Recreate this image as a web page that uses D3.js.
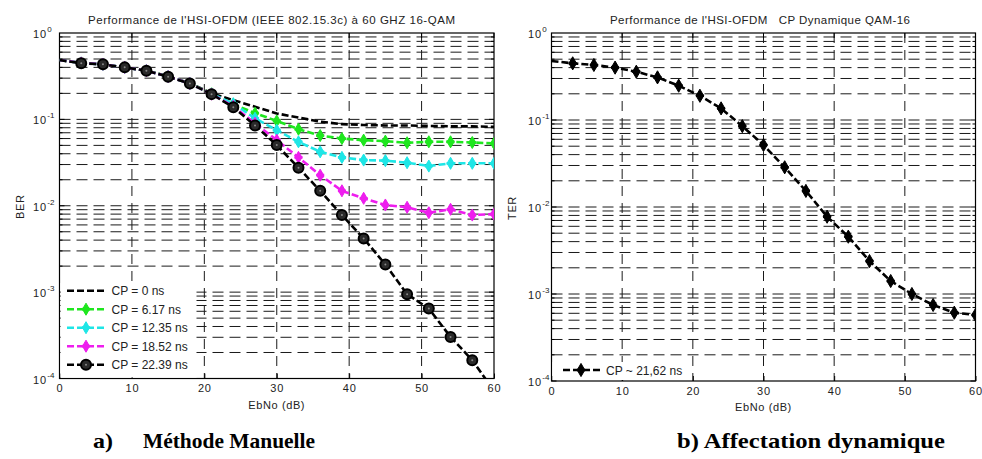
<!DOCTYPE html>
<html>
<head>
<meta charset="utf-8">
<script src="https://cdn.jsdelivr.net/npm/d3@7"></script>
<style>
  html, body { margin: 0; padding: 0; background: #fff; }
  svg { display: block; }
</style>
</head>
<body>
<svg id="chart" width="982" height="459"></svg>
<script>
// ---------------- DATA ----------------
const ebno = [0, 3, 6, 9, 12, 15, 18, 21, 24, 27, 30, 33, 36, 39, 42, 45, 48, 51, 54, 57, 60];
const xTicks = [0, 10, 20, 30, 40, 50, 60];
const yDecades = [0, -1, -2, -3, -4];

const legendLeft = ["CP = 0 ns", "CP = 6.17 ns", "CP = 12.35 ns", "CP = 18.52 ns", "CP = 22.39 ns"];
const cp0    = [0.486, 0.45, 0.434, 0.40, 0.366, 0.315, 0.262, 0.20, 0.167, 0.14, 0.117, 0.105, 0.094, 0.088, 0.086, 0.085, 0.085, 0.084, 0.083, 0.083, 0.082];
const cp617  = [0.486, 0.45, 0.434, 0.40, 0.366, 0.314, 0.26, 0.198, 0.15, 0.118, 0.096, 0.077, 0.065, 0.060, 0.0575, 0.056, 0.0536, 0.055, 0.055, 0.054, 0.0527];
const cp1235 = [0.486, 0.45, 0.434, 0.40, 0.366, 0.313, 0.26, 0.197, 0.152, 0.103, 0.075, 0.055, 0.0421, 0.0363, 0.0338, 0.0333, 0.0315, 0.0288, 0.031, 0.031, 0.031];
const cp1852 = [0.486, 0.45, 0.434, 0.40, 0.366, 0.313, 0.26, 0.196, 0.142, 0.09, 0.0575, 0.0363, 0.0226, 0.0149, 0.0122, 0.0102, 0.0096, 0.0083, 0.0091, 0.0078, 0.008];
const cp2239 = [0.486, 0.446, 0.434, 0.40, 0.366, 0.312, 0.26, 0.196, 0.138, 0.085, 0.0504, 0.0275, 0.0149, 0.0078, 0.00418, 0.00209, 0.000946, 0.000645, 0.000303, 0.000163, 0.000072];

const legendRight = ["CP ~ 21,62 ns"];
const cpDyn  = [0.477, 0.448, 0.429, 0.40, 0.359, 0.309, 0.248, 0.19, 0.136, 0.085, 0.0516, 0.0286, 0.0153, 0.00774, 0.00456, 0.00239, 0.00141, 0.001, 0.000748, 0.00061, 0.000574];

const titleLeft = "Performance de l'HSI-OFDM (IEEE 802.15.3c) à 60 GHZ 16-QAM";
const titleRight = "Performance de l'HSI-OFDM   CP Dynamique QAM-16";
const captionA1 = "a)";
const captionA2 = "Méthode Manuelle";
const captionB = "b) Affectation dynamique";

// ---------------- DRAW ----------------
const svg = d3.select("#chart");
const FONT = "'Liberation Sans', Arial, sans-serif";

function panel(cfg) {
  const g = svg.append("g");
  const x = d3.scaleLinear().domain([0, 60]).range([cfg.x0, cfg.x1]);
  const y = d3.scaleLog().domain([1e-4, 1]).range([cfg.yBot, cfg.yTop]);

  const clipId = "clip" + cfg.id;
  svg.append("clipPath").attr("id", clipId).append("rect")
    .attr("x", cfg.x0).attr("y", cfg.yTop)
    .attr("width", cfg.x1 - cfg.x0).attr("height", cfg.yBot - cfg.yTop);

  // horizontal grid (decades and minor)
  const hVals = [];
  for (let d = -4; d < 0; d++) for (let m = 1; m <= 9; m++) hVals.push(m * Math.pow(10, d));
  g.append("g").selectAll("line").data(hVals.filter(v => v > 1e-4)).join("line")
    .attr("x1", cfg.x0).attr("x2", cfg.x1)
    .attr("y1", d => y(d)).attr("y2", d => y(d))
    .attr("stroke", "#1a1a1a").attr("stroke-width", 1)
    .attr("stroke-dasharray", "11,6");
  // vertical grid
  g.append("g").selectAll("line").data(xTicks.filter(t => t > 0 && t < 60)).join("line")
    .attr("x1", d => x(d)).attr("x2", d => x(d))
    .attr("y1", cfg.yTop).attr("y2", cfg.yBot)
    .attr("stroke", "#1a1a1a").attr("stroke-width", 1)
    .attr("stroke-dasharray", "10,7");

  // frame
  g.append("rect").attr("x", cfg.x0).attr("y", cfg.yTop)
    .attr("width", cfg.x1 - cfg.x0).attr("height", cfg.yBot - cfg.yTop)
    .attr("fill", "none").attr("stroke", "#000").attr("stroke-width", 1.2);

  // x axis (bottom) with inner ticks
  const xa = d3.axisBottom(x).tickValues(xTicks).tickSizeInner(-5).tickSizeOuter(0).tickPadding(cfg.tickPad);
  const xg = g.append("g").attr("transform", `translate(0,${cfg.yBot})`).call(xa);
  xg.select(".domain").remove();
  xg.selectAll(".tick line").attr("stroke", "#000");
  xg.selectAll(".tick text").attr("font-family", FONT).attr("font-size", 11).attr("fill", "#222")
    .attr("letter-spacing", "0.8px");
  // top ticks
  g.append("g").selectAll("line").data(xTicks).join("line")
    .attr("x1", d => x(d)).attr("x2", d => x(d))
    .attr("y1", cfg.yTop).attr("y2", cfg.yTop + 5).attr("stroke", "#000");

  // y tick marks (major + minor) left & right
  const yt = g.append("g");
  yt.selectAll("line.l").data(hVals).join("line").attr("class", "l")
    .attr("x1", cfg.x0).attr("x2", d => cfg.x0 + (Math.abs(Math.log10(d) % 1) < 1e-9 ? 5 : 3))
    .attr("y1", d => y(d)).attr("y2", d => y(d)).attr("stroke", "#000");
  yt.selectAll("line.r").data(hVals).join("line").attr("class", "r")
    .attr("x1", cfg.x1).attr("x2", d => cfg.x1 - (Math.abs(Math.log10(d) % 1) < 1e-9 ? 5 : 3))
    .attr("y1", d => y(d)).attr("y2", d => y(d)).attr("stroke", "#000");

  // y tick labels 10^n
  const yl = g.append("g").selectAll("text").data(yDecades).join("text")
    .attr("x", cfg.labX).attr("y", d => y(Math.pow(10, d)) + 5)
    .attr("font-family", FONT).attr("font-size", 11).attr("fill", "#222");
  yl.append("tspan").text("10").attr("letter-spacing", "1px");
  yl.append("tspan").text(d => String(d)).attr("dy", -6).attr("font-size", 8);

  // axis labels
  g.append("text").attr("x", (cfg.x0 + cfg.x1) / 2).attr("y", cfg.xLabY)
    .attr("text-anchor", "middle").attr("font-family", FONT).attr("font-size", 11)
    .attr("fill", "#222").attr("letter-spacing", "0.6px").text("EbNo (dB)");
  g.append("text").attr("transform", `translate(${cfg.yLabX},${(cfg.yTop + cfg.yBot) / 2 + 1}) rotate(-90)`)
    .attr("text-anchor", "middle").attr("font-family", FONT).attr("font-size", 11)
    .attr("fill", "#222").attr("letter-spacing", "0.6px").text(cfg.yLabel);

  // title
  g.append("text").attr("x", cfg.titleX0).attr("y", 24)
    .attr("font-family", FONT).attr("font-size", 11.5).attr("fill", "#222")
    .attr("textLength", cfg.titleW).attr("lengthAdjust", "spacing")
    .style("white-space", "pre").text(cfg.title);

  return { g, x, y, clipId };
}

function drawSeries(p, vals, color, marker, width) {
  const pts = ebno.map((e, i) => [e, vals[i]]);
  const line = d3.line().x(d => p.x(d[0])).y(d => p.y(d[1]));
  const sg = p.g.append("g").attr("clip-path", `url(#${p.clipId})`);
  sg.append("path").attr("d", line(pts)).attr("fill", "none")
    .attr("stroke", color).attr("stroke-width", width)
    .attr("stroke-dasharray", "7,3").attr("stroke-linejoin", "round");
  if (marker) {
    const mpts = pts.filter(d => d[0] > 0 && d[1] >= 1e-4);
    drawMarkers(sg, mpts.map(d => [p.x(d[0]), p.y(d[1])]), color, marker);
  }
}

function drawMarkers(sel, xy, color, marker) {
  if (marker === "circle") {
    sel.selectAll(null).data(xy).join("circle")
      .attr("cx", d => d[0]).attr("cy", d => d[1]).attr("r", 5)
      .attr("fill", "#2a2a2a").attr("stroke", "#000").attr("stroke-width", 2);
    sel.selectAll(null).data(xy).join("circle")
      .attr("cx", d => d[0]).attr("cy", d => d[1]).attr("r", 1)
      .attr("fill", "#888");
  } else {
    const sym = d3.symbol().type(d3.symbolDiamond).size(marker === "bigdiamond" ? 50 : 42);
    sel.selectAll(null).data(xy).join("path")
      .attr("transform", d => `translate(${d[0]},${d[1]})`)
      .attr("d", sym()).attr("fill", color).attr("stroke", color).attr("stroke-width", 1);
    const cr = d3.symbol().type(d3.symbolCross).size(36);
    sel.selectAll(null).data(xy).join("path")
      .attr("transform", d => `translate(${d[0]},${d[1]})`)
      .attr("d", cr()).attr("fill", color);
  }
}

// ---- Left panel ----
const L = panel({ id: "L", x0: 59.5, x1: 494, yTop: 33, yBot: 378.5, labX: 33, xLabY: 409, yLabX: 24,
  tickPad: 6, yLabel: "BER", title: titleLeft, titleX0: 88, titleW: 367 });

const leftSeries = [
  { v: cp0, c: "#000000", m: null },
  { v: cp617, c: "#1ee61e", m: "diamond" },
  { v: cp1235, c: "#1ee6e6", m: "diamond" },
  { v: cp1852, c: "#ee1eee", m: "diamond" },
  { v: cp2239, c: "#000000", m: "circle" }
];
leftSeries.forEach(s => drawSeries(L, s.v, s.c, s.m, 2.6));

// left legend
const lg = L.g.append("g");
lg.append("rect").attr("x", 60.5).attr("y", 283).attr("width", 136).attr("height", 94.5).attr("fill", "#fff");
legendLeft.forEach((name, i) => {
  const s = leftSeries[i];
  const yy = 290.7 + i * 18.5;
  lg.append("line").attr("x1", 67).attr("x2", 105).attr("y1", yy).attr("y2", yy)
    .attr("stroke", s.c).attr("stroke-width", 2.6).attr("stroke-dasharray", "7,3");
  if (s.m) drawMarkers(lg.append("g"), [[86, yy]], s.c, s.m);
  lg.append("text").attr("x", 111.5).attr("y", yy + 4.5).attr("font-family", FONT)
    .attr("font-size", 12).attr("fill", "#222").text(name);
});

// ---- Right panel ----
const R = panel({ id: "R", x0: 551.5, x1: 975.5, yTop: 33, yBot: 381, labX: 528, xLabY: 411, yLabX: 516,
  tickPad: 6, yLabel: "TER", title: titleRight, titleX0: 610, titleW: 300 });
drawSeries(R, cpDyn, "#000000", "bigdiamond", 2.6);

const rg = R.g.append("g");
rg.append("rect").attr("x", 552.5).attr("y", 362).attr("width", 138).attr("height", 18).attr("fill", "#fff");
rg.append("line").attr("x1", 563).attr("x2", 600).attr("y1", 370).attr("y2", 370)
  .attr("stroke", "#000").attr("stroke-width", 2.6).attr("stroke-dasharray", "7,3");
drawMarkers(rg.append("g"), [[581, 370]], "#000", "bigdiamond");
rg.append("text").attr("x", 606).attr("y", 374.5).attr("font-family", FONT)
  .attr("font-size", 12).attr("fill", "#222").text(legendRight[0]);

// ---- Captions ----
const SERIF = "'Liberation Serif', 'Times New Roman', serif";
svg.append("text").attr("x", 93).attr("y", 448).attr("font-family", SERIF).attr("font-weight", "bold")
  .attr("font-size", 21).attr("textLength", 20).attr("lengthAdjust", "spacingAndGlyphs").text(captionA1);
svg.append("text").attr("x", 143).attr("y", 448).attr("font-family", SERIF).attr("font-weight", "bold")
  .attr("font-size", 21).attr("textLength", 172).attr("lengthAdjust", "spacingAndGlyphs").text(captionA2);
svg.append("text").attr("x", 677).attr("y", 448).attr("font-family", SERIF).attr("font-weight", "bold")
  .attr("font-size", 21).attr("textLength", 268).attr("lengthAdjust", "spacingAndGlyphs").text(captionB);
</script>
</body>
</html>
